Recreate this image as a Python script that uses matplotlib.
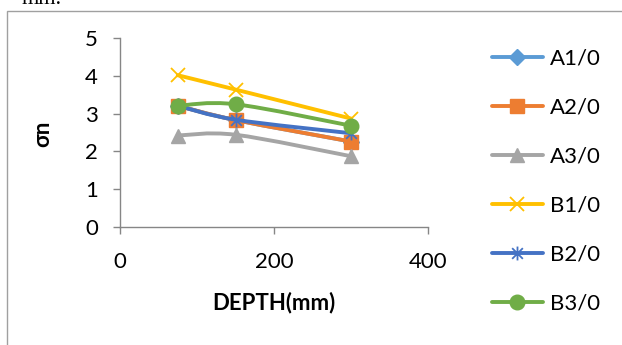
import numpy as np
import matplotlib
matplotlib.use("Agg")
import matplotlib.pyplot as plt
from matplotlib.path import Path
from matplotlib.patches import PathPatch, Rectangle
from matplotlib.lines import Line2D

plt.rcParams['font.family'] = ['Lato', 'DejaVu Sans']

# data
depth = [75, 150, 300]
A1 = [3.21, 2.83, 2.26]
A2 = [3.21, 2.83, 2.26]
A3 = [2.42, 2.44, 1.87]
B1 = [4.02, 3.64, 2.87]
B2 = [3.21, 2.84, 2.48]
B3 = [3.21, 3.25, 2.68]

names = ['A1/0', 'A2/0', 'A3/0', 'B1/0', 'B2/0', 'B3/0']
series = [A1, A2, A3, B1, B2, B3]
colors = ['#5B9BD5', '#ED7D31', '#A5A5A5', '#FFC000', '#4472C4', '#70AD47']

# excel style star marker (x with a vertical bar)
star = Path([(-1, -1), (1, 1), (-1, 1), (1, -1), (0, -1.3), (0, 1.3)],
            [Path.MOVETO, Path.LINETO, Path.MOVETO, Path.LINETO, Path.MOVETO, Path.LINETO])
markers = ['D', 's', '^', 'x', star, 'o']
msizes = [8, 10, 10, 10, 10, 10.5]


def smooth_path(xs, ys):
    # excel-like smoothed line: catmull-rom segments as cubic beziers
    pts = np.column_stack([xs, ys]).astype(float)
    verts = [pts[0]]
    codes = [Path.MOVETO]
    n = len(pts)
    for i in range(n - 1):
        p0 = pts[i - 1] if i > 0 else pts[i]
        p1 = pts[i]
        p2 = pts[i + 1]
        p3 = pts[i + 2] if i + 2 < n else pts[i + 1]
        c1 = p1 + (p2 - p0) / 6
        c2 = p2 - (p3 - p1) / 6
        verts += [c1, c2, p2]
        codes += [Path.CURVE4] * 3
    return Path(verts, codes)


fig = plt.figure(figsize=(6.22, 3.45), dpi=100)
ax = fig.add_axes([120 / 622, 1 - 226.7 / 345, 308 / 622, 188.4 / 345])

handles = []
for i, (name, vals, c, m, ms) in enumerate(zip(names, series, colors, markers, msizes)):
    ax.add_patch(PathPatch(smooth_path(depth, vals), fill=False, edgecolor=c,
                           lw=2.8, capstyle='round', zorder=2 + i))
    mew = 1.3 if m in ('x',) or m is star else 1
    ax.plot(depth, vals, linestyle='none', marker=m, markersize=ms, color=c,
            markeredgecolor=c, markeredgewidth=mew, zorder=2 + i)
    handles.append(Line2D([], [], color=c, lw=2.8, marker=m, markersize=ms,
                          markeredgewidth=mew, solid_capstyle='round'))

ax.set_xlim(0, 400)
ax.set_ylim(0, 5)
ax.set_xticks([0, 200, 400])
ax.set_yticks([0, 1, 2, 3, 4, 5])
for s in ['top', 'right']:
    ax.spines[s].set_visible(False)
for s in ['left', 'bottom']:
    ax.spines[s].set_color('#868686')
    ax.spines[s].set_linewidth(1)
ax.tick_params(axis='both', direction='out', length=5, width=1, color='#868686',
               labelsize=16)
ax.tick_params(axis='y', pad=11)
ax.tick_params(axis='x', pad=13)
ax.patch.set_visible(False)

fig.text(43 / 622, 1 - 134 / 345, 'σn', rotation=90, fontsize=16, fontweight='bold',
         ha='center', va='center')
fig.text(274 / 622, 1 - 303 / 345, 'DEPTH(mm)', fontsize=16, fontweight='bold',
         ha='center', va='center')

fig.legend(handles, names, loc='upper left', bbox_to_anchor=(483 / 622, 1 - 40 / 345),
           frameon=False, fontsize=16, handlelength=2.3, labelspacing=1.3,
           handletextpad=0.3, borderaxespad=0)

# outer chart frame and the cut-off text line above it
fig.patches.append(Rectangle((7.5 / 622, -0.1), 1.2, 1 - 10.5 / 345 + 0.1,
                             transform=fig.transFigure, fill=False,
                             edgecolor='#A0A0A0', lw=1))
fig.text(22 / 622, 1 - 4 / 345, 'mm.', fontsize=16, family='Liberation Serif',
         va='baseline', ha='left')

fig.savefig('out.png', dpi=100)
